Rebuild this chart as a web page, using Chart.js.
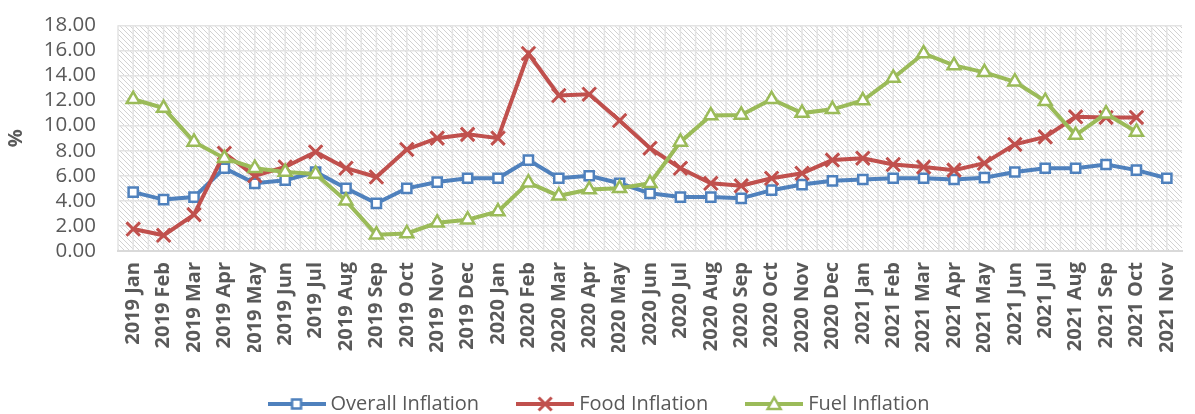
<!DOCTYPE html>
<html>
<head>
<meta charset="utf-8">
<script src="https://cdn.jsdelivr.net/npm/chart.js@4/dist/chart.umd.min.js"></script>
<style>
  html, body { margin: 0; padding: 0; overflow: hidden; background: #fff; width: 1195px; height: 414px; }
  #wrap { width: 1202px; height: 433px; position: absolute; left: 0; top: -9px; }
</style>
</head>
<body>
<div id="wrap"><canvas id="chart"></canvas></div>
<script>
const categories = [
  "2019 Jan", "2019 Feb", "2019 Mar", "2019 Apr", "2019 May", "2019 Jun", "2019 Jul", "2019 Aug",
  "2019 Sep", "2019 Oct", "2019 Nov", "2019 Dec",
  "2020 Jan", "2020 Feb", "2020 Mar", "2020 Apr", "2020 May", "2020 Jun", "2020 Jul", "2020 Aug",
  "2020 Sep", "2020 Oct", "2020 Nov", "2020 Dec",
  "2021 Jan", "2021 Feb", "2021 Mar", "2021 Apr", "2021 May", "2021 Jun", "2021 Jul", "2021 Aug",
  "2021 Sep", "2021 Oct", "2021 Nov"
]
const overallInflation = [4.7, 4.1, 4.3, 6.6, 5.4, 5.65, 6.3, 5.0, 3.8, 5.0, 5.5, 5.8,
  5.8, 7.25, 5.8, 6.0, 5.4, 4.6, 4.3, 4.3, 4.2, 4.85, 5.3, 5.6,
  5.7, 5.8, 5.8, 5.7, 5.85, 6.3, 6.6, 6.6, 6.9, 6.45, 5.8]
const foodInflation = [1.75, 1.25, 2.9, 7.8, 6.0, 6.7, 7.9, 6.6, 5.9, 8.1, 9.0, 9.3,
  9.0, 15.75, 12.4, 12.5, 10.4, 8.2, 6.6, 5.4, 5.2, 5.8, 6.2, 7.25,
  7.4, 6.9, 6.7, 6.45, 7.0, 8.5, 9.1, 10.7, 10.65, 10.65, null]
const fuelInflation = [12.1, 11.4, 8.7, 7.4, 6.6, 6.3, 6.15, 4.0, 1.3, 1.4, 2.25, 2.5,
  3.15, 5.45, 4.4, 4.9, 5.0, 5.4, 8.7, 10.8, 10.85, 12.1, 11.0, 11.3,
  12.0, 13.8, 15.75, 14.8, 14.25, 13.5, 11.95, 9.25, 10.95, 9.5, null]
const yTicks = { min: 0, max: 18, step: 2 }

const BLUE = "#4F81BD"
const RED = "#C0504D"
const GREEN = "#9BBB59"

Chart.defaults.font.family = "'Open Sans', sans-serif"
Chart.defaults.color = "#595959"

// small line + marker picture for each legend entry
function legendIcon(color, shape) {
    const c = document.createElement("canvas")
    c.width = 58
    c.height = 20
    const g = c.getContext("2d")
    g.strokeStyle = color
    g.lineWidth = 4
    g.beginPath()
    g.moveTo(0, 10)
    g.lineTo(58, 10)
    g.stroke()
    g.fillStyle = "#fff"
    g.lineWidth = shape === "cross" ? 3 : 2.5
    g.beginPath()
    if (shape === "rect") {
        g.rect(24.5, 5.5, 9, 9)
        g.fill()
        g.stroke()
    } else if (shape === "tri") {
        g.moveTo(29, 3.5)
        g.lineTo(35.5, 15)
        g.lineTo(22.5, 15)
        g.closePath()
        g.fill()
        g.stroke()
    } else {
        g.moveTo(22.5, 3.5); g.lineTo(35.5, 16.5)
        g.moveTo(35.5, 3.5); g.lineTo(22.5, 16.5)
        g.stroke()
    }
    return c
}
const icons = [legendIcon(BLUE, "rect"), legendIcon(RED, "cross"), legendIcon(GREEN, "tri")]

// hatched plot background with the half-category vertical grid
const backdrop = {
    id: "backdrop",
    beforeDraw(chart) {
        const { ctx, chartArea: a, scales: { x } } = chart
        const tile = document.createElement("canvas")
        tile.width = 5
        tile.height = 5
        const t = tile.getContext("2d")
        t.strokeStyle = "#d2d2d2"
        t.lineWidth = 1
        t.beginPath()
        t.moveTo(-1, -1); t.lineTo(6, 6)
        t.moveTo(-1, 4); t.lineTo(1, 6)
        t.moveTo(4, -1); t.lineTo(6, 1)
        t.stroke()
        ctx.save()
        ctx.fillStyle = ctx.createPattern(tile, "repeat")
        ctx.fillRect(a.left, a.top, a.right - a.left, a.bottom - a.top)
        ctx.strokeStyle = "#e3e3e3"
        ctx.lineWidth = 1.5
        const half = (x.getPixelForValue(1) - x.getPixelForValue(0)) / 2
        ctx.beginPath()
        for (let i = 0; i < categories.length; i++) {
            const px = x.getPixelForValue(i)
            ctx.moveTo(px - half, a.top); ctx.lineTo(px - half, a.bottom)
            ctx.moveTo(px, a.top); ctx.lineTo(px, a.bottom)
        }
        ctx.stroke()
        ctx.restore()
    }
}

const series = (label, data, color, style, radius, order) => ({
    label: label,
    data: data,
    borderColor: color,
    backgroundColor: "#fff",
    borderWidth: 4,
    pointStyle: style,
    pointRadius: radius,
    pointHoverRadius: radius,
    pointBorderColor: color,
    pointBackgroundColor: "#fff",
    pointBorderWidth: style === "crossRot" ? 3 : 2.5,
    tension: 0,
    order: order,
})

new Chart(document.getElementById("chart"), {
    type: "line",
    data: {
        labels: categories,
        datasets: [
            series("Overall Inflation", overallInflation, BLUE, "rect", 6.5, 2),
            series("Food Inflation", foodInflation, RED, "crossRot", 9.5, 1),
            series("Fuel Inflation", fuelInflation, GREEN, "triangle", 7.5, 0),
        ],
    },
    options: {
        responsive: true,
        maintainAspectRatio: false,
        animation: false,
        layout: { padding: { left: 0, right: 0, top: 5, bottom: 0 } },
        plugins: {
            tooltip: { enabled: false },
            legend: {
                position: "bottom",
                labels: {
                    usePointStyle: true,
                    pointStyleWidth: 48,
                    padding: 42,
                    font: { size: 20 },
                    color: "#595959",
                    sort: (a, b) => a.datasetIndex - b.datasetIndex,
                    generateLabels(chart) {
                        const items = Chart.defaults.plugins.legend.labels.generateLabels(chart)
                        items.forEach((it) => { it.pointStyle = icons[it.datasetIndex] })
                        return items
                    },
                },
            },
        },
        scales: {
            x: {
                offset: true,
                grid: { display: false, drawTicks: false },
                border: { display: true, color: "#d9d9d9", width: 2 },
                ticks: {
                    autoSkip: false,
                    minRotation: 90,
                    maxRotation: 90,
                    padding: 11,
                    font: { size: 20, weight: "bold" },
                },
                afterFit(scale) { scale.height = 101 },
            },
            y: {
                min: yTicks.min,
                max: yTicks.max,
                grid: { color: "#e3e3e3", lineWidth: 1.5, drawTicks: false },
                border: { display: false },
                ticks: {
                    stepSize: yTicks.step,
                    autoSkip: false,
                    padding: 22,
                    font: { size: 20.5 },
                    callback: (v) => v.toFixed(2),
                },
                title: {
                    display: true,
                    text: "%",
                    font: { size: 20, weight: "bold" },
                    padding: 4,
                },
                afterFit(scale) { scale.width = 118 },
            },
        },
    },
    plugins: [backdrop],
})
</script>
</body>
</html>
